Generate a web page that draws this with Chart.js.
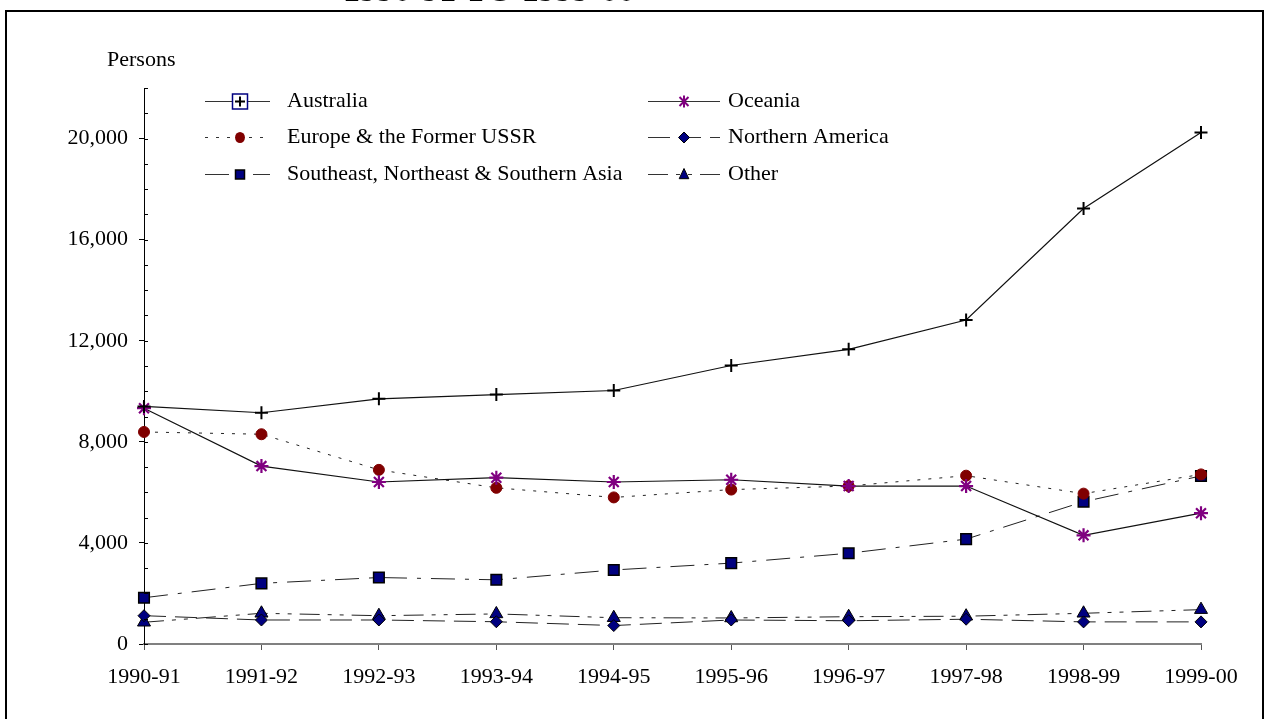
<!DOCTYPE html>
<html>
<head>
<meta charset="utf-8">
<title>Arrivals 1990-91 to 1999-00</title>
<script src="https://cdn.jsdelivr.net/npm/chart.js@4.4.1/dist/chart.umd.min.js"></script>
<style>
  html, body { margin: 0; padding: 0; background: #fff; }
  #wrap { position: relative; width: 1265px; height: 719px; }
</style>
</head>
<body>
<div id="wrap"><canvas id="arrivalsChart" width="1265" height="719"></canvas></div>
<script>
// Données
const years = ['1990-91', '1991-92', '1992-93', '1993-94', '1994-95', '1995-96', '1996-97', '1997-98', '1998-99', '1999-00'];
const australia = [9400, 9150, 9700, 9870, 10030, 11020, 11660, 12820, 17230, 20240];
const oceania = [9330, 7040, 6410, 6580, 6410, 6500, 6250, 6250, 4300, 5175];
const europe = [8390, 8300, 6890, 6180, 5800, 6110, 6250, 6660, 5950, 6710];
const northAmerica = [1120, 950, 950, 880, 730, 950, 920, 980, 875, 875];
const asia = [1830, 2400, 2630, 2540, 2930, 3200, 3590, 4150, 5630, 6650];
const other = [860, 1215, 1120, 1190, 1040, 1030, 1080, 1100, 1215, 1360];
const yTickLabels = [0, 4000, 8000, 12000, 16000, 20000];
const titleText = '1990-91 TO 1999-00';

const serif = '"Liberation Serif", "Times New Roman", serif';

// ordre de la légende : [colonne, ligne]
const legendSlots = {
  'Australia': [0, 0],
  'Oceania': [1, 0],
  'Europe & the Former USSR': [0, 1],
  'Northern America': [1, 1],
  'Southeast, Northeast & Southern Asia': [0, 2],
  'Other': [1, 2]
};

function drawMarker(c, style, x, y, r, fill, stroke) {
  c.save();
  c.setLineDash([]);
  c.fillStyle = fill;
  c.strokeStyle = stroke;
  c.beginPath();
  if (style === 'cross') {
    c.lineWidth = 2;
    c.moveTo(x - r, y); c.lineTo(x + r, y);
    c.moveTo(x, y - r); c.lineTo(x, y + r);
    c.stroke();
  } else if (style === 'star') {
    c.lineWidth = 2;
    c.moveTo(x, y - r); c.lineTo(x, y + r);
    const d = r * 0.75;
    c.moveTo(x - d, y - d); c.lineTo(x + d, y + d);
    c.moveTo(x - d, y + d); c.lineTo(x + d, y - d);
    c.stroke();
  } else if (style === 'circle') {
    c.ellipse(x, y, r * 0.9, r, 0, 0, Math.PI * 2);
    c.fill();
  } else if (style === 'rect') {
    c.lineWidth = 1.5;
    c.rect(x - r, y - r, r * 2, r * 2);
    c.fill(); c.stroke();
  } else if (style === 'rectRot') {
    c.lineWidth = 1;
    c.moveTo(x, y - r); c.lineTo(x + r, y); c.lineTo(x, y + r); c.lineTo(x - r, y); c.closePath();
    c.fill(); c.stroke();
  } else if (style === 'triangle') {
    c.lineWidth = 1;
    c.moveTo(x, y - r); c.lineTo(x + r * 0.8, y + r * 0.7); c.lineTo(x - r * 0.8, y + r * 0.7); c.closePath();
    c.fill(); c.stroke();
  }
  c.restore();
}

const decorPlugin = {
  id: 'decor',
  beforeDraw(chart) {
    const c = chart.ctx;
    c.save();
    c.fillStyle = '#fff';
    c.fillRect(0, 0, chart.width, chart.height);
    // cadre
    c.strokeStyle = '#000';
    c.lineWidth = 2;
    c.strokeRect(6, 11, 1257, 730);
    // titre (coupé en haut)
    c.fillStyle = '#000';
    c.font = 'bold 34px ' + serif;
    c.textAlign = 'center';
    c.textBaseline = 'alphabetic';
    c.fillText(titleText, 489, 1);
    c.restore();
  },
  afterDraw(chart) {
    const c = chart.ctx;
    const y = chart.scales.y;
    const left = chart.chartArea.left;
    c.save();
    // petites graduations intérieures
    c.strokeStyle = '#000';
    c.lineWidth = 1;
    c.beginPath();
    for (let v = 0; v <= 22000; v += 1000) {
      const py = Math.round(y.getPixelForValue(v)) + 0.5;
      c.moveTo(left, py);
      c.lineTo(left + 4, py);
    }
    c.stroke();

    // titre de l'axe
    c.fillStyle = '#000';
    c.font = '22px ' + serif;
    c.textAlign = 'left';
    c.textBaseline = 'middle';
    c.fillText('Persons', 107, 60);

    // légende
    const colX = [[205, 270, 240, 287], [648, 720, 684, 728]];
    const rowY = [101, 137, 174];
    chart.data.datasets.forEach(ds => {
      const slot = legendSlots[ds.label];
      const cx = colX[slot[0]];
      const ly = rowY[slot[1]] + 0.5;
      c.strokeStyle = '#333';
      c.lineWidth = 1;
      c.setLineDash(ds.borderDash || []);
      c.beginPath();
      c.moveTo(cx[0], ly);
      c.lineTo(cx[1], ly);
      c.stroke();
      c.setLineDash([]);
      if (ds.label === 'Australia') {
        c.fillStyle = '#fff';
        c.fillRect(cx[2] - 7.5, ly - 7.5, 15, 15);
        c.strokeStyle = '#000080';
        c.lineWidth = 1.5;
        c.strokeRect(cx[2] - 7.5, ly - 7.5, 15, 15);
        drawMarker(c, 'cross', cx[2], ly, 5, '#000', '#000');
      } else {
        drawMarker(c, ds.pointStyle, cx[2], ly, ds.legendRadius, ds.pointBackgroundColor, ds.pointBorderColor);
      }
      c.fillStyle = '#000';
      c.font = '22px ' + serif;
      c.textAlign = 'left';
      c.textBaseline = 'middle';
      c.fillText(ds.label, cx[3], ly);
    });
    c.restore();
  }
};

const ctx = document.getElementById('arrivalsChart').getContext('2d');
const arrivalsChart = new Chart(ctx, {
  type: 'line',
  data: {
    labels: years,
    datasets: [
      {
        label: 'Australia', data: australia,
        borderColor: '#111', borderWidth: 1.2,
        pointStyle: 'cross', pointRadius: 6.5, pointBorderWidth: 2,
        pointBorderColor: '#000', pointBackgroundColor: '#000', legendRadius: 5
      },
      {
        label: 'Oceania', data: oceania,
        borderColor: '#111', borderWidth: 1.2,
        pointStyle: 'star', pointRadius: 7, pointBorderWidth: 2.2,
        pointBorderColor: '#800080', pointBackgroundColor: '#800080', legendRadius: 6
      },
      {
        label: 'Europe & the Former USSR', data: europe,
        borderColor: '#222', borderWidth: 1, borderDash: [3, 8],
        pointStyle: 'circle', pointRadius: 5.5, pointBorderWidth: 1,
        pointBorderColor: '#800000', pointBackgroundColor: '#800000', legendRadius: 5.5
      },
      {
        label: 'Northern America', data: northAmerica,
        borderColor: '#222', borderWidth: 1, borderDash: [22, 9],
        pointStyle: 'rectRot', pointRadius: 6, pointBorderWidth: 1,
        pointBorderColor: '#000', pointBackgroundColor: '#000080', legendRadius: 5.5
      },
      {
        label: 'Southeast, Northeast & Southern Asia', data: asia,
        borderColor: '#222', borderWidth: 1, borderDash: [24, 10, 4, 10],
        pointStyle: 'rect', pointRadius: 7.5, pointBorderWidth: 1.5,
        pointBorderColor: '#000', pointBackgroundColor: '#000080', legendRadius: 4.5
      },
      {
        label: 'Other', data: other,
        borderColor: '#222', borderWidth: 1, borderDash: [20, 8, 4, 8, 4, 8],
        pointStyle: 'triangle', pointRadius: 7.5, pointBorderWidth: 1,
        pointBorderColor: '#000', pointBackgroundColor: '#000080', legendRadius: 6
      }
    ]
  },
  options: {
    responsive: false,
    animation: false,
    events: [],
    layout: { padding: { left: 0, right: 64, top: 88, bottom: 35 } },
    elements: { line: { tension: 0, fill: false } },
    plugins: {
      legend: { display: false },
      tooltip: { enabled: false }
    },
    scales: {
      x: {
        type: 'category',
        offset: false,
        afterFit(scale) { scale.height = 40; },
        grid: { drawOnChartArea: false, drawTicks: true, tickLength: 6, color: '#555', lineWidth: 1 },
        border: { color: '#808080', width: 2 },
        ticks: {
          color: '#000', padding: 14, maxRotation: 0, autoSkip: false,
          font: { family: serif, size: 22 }
        }
      },
      y: {
        min: 0, max: 22000,
        afterFit(scale) { scale.width = 144; },
        afterBuildTicks(scale) {
          scale.ticks = yTickLabels.map(v => ({ value: v }));
        },
        grid: { drawOnChartArea: false, drawTicks: true, tickLength: 5, color: '#000', lineWidth: 1 },
        border: { color: '#000', width: 1 },
        ticks: {
          color: '#000', padding: 11,
          font: { family: serif, size: 22 },
          callback: v => v.toLocaleString('en-US')
        }
      }
    }
  },
  plugins: [decorPlugin]
});
</script>
</body>
</html>
